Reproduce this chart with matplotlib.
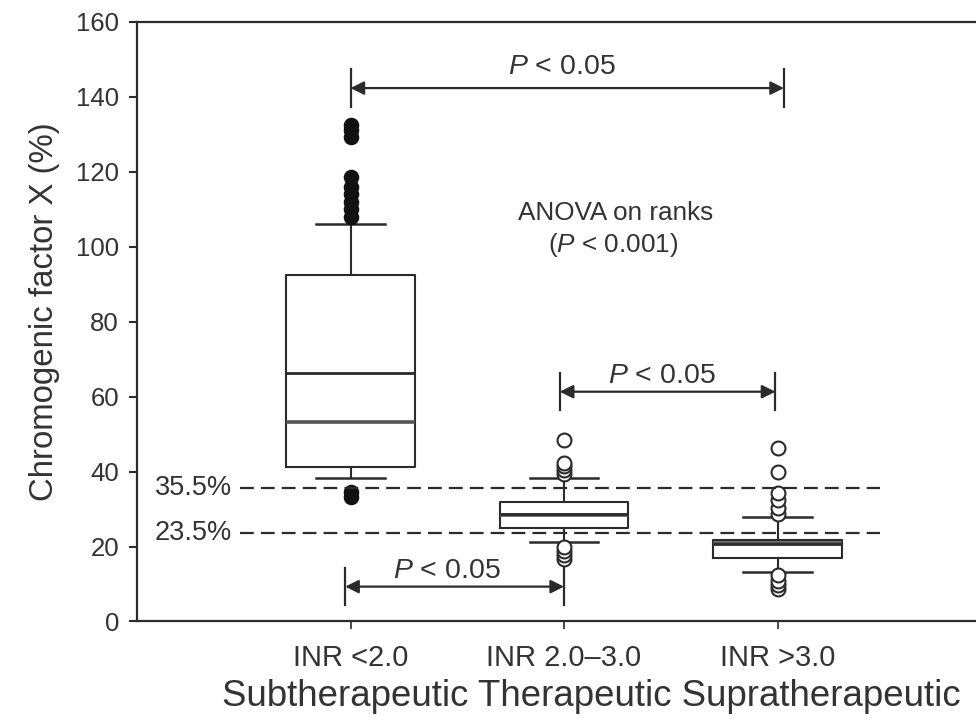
import matplotlib
matplotlib.use("Agg")
import matplotlib.pyplot as plt

plt.rcParams['font.family'] = ['Liberation Sans', 'DejaVu Sans']
plt.rcParams['mathtext.fontset'] = 'custom'
plt.rcParams['mathtext.it'] = 'Liberation Sans:italic'
plt.rcParams['mathtext.rm'] = 'Liberation Sans'

# ---------------- data ----------------
groups = ["INR <2.0", "INR 2.0\u20133.0", "INR >3.0"]
group_names = "Subtherapeutic Therapeutic Supratherapeutic"
q1 = [41.2, 24.9, 16.9]
q3 = [92.4, 32.0, 21.8]
medians = [53.2, 28.3, 21.0]
means = [66.3, 28.7, 20.6]
whisker_low = [38.2, 21.3, 13.3]
whisker_high = [106.0, 38.3, 27.9]
fliers_1 = [33.2, 34.5, 108.0, 110.0, 112.0, 114.0, 116.0, 118.5, 129.3, 131.0, 132.5]
fliers_2 = [16.6, 17.7, 18.8, 19.9, 39.3, 40.4, 41.4, 42.4, 48.3]
fliers_3 = [8.6, 9.7, 10.9, 12.3, 28.6, 30.2, 32.4, 34.4, 39.8, 46.2]
fliers = [fliers_1, fliers_2, fliers_3]
thresholds = [35.5, 23.5]
threshold_labels = ["35.5%", "23.5%"]
yticks = [0, 20, 40, 60, 80, 100, 120, 140, 160]

ink = '#2b2b2b'
txt = '#333333'

fig = plt.figure(figsize=(9.76, 7.22), dpi=100)
ax = fig.add_axes([0.1404, 0.1392, 0.875, 0.8307])

positions = [1, 2, 3]
stats = []
for i in range(3):
    stats.append(dict(med=medians[i], q1=q1[i], q3=q3[i], whislo=whisker_low[i],
                      whishi=whisker_high[i], mean=means[i], fliers=[]))

ax.bxp(stats, positions=positions, widths=0.6, capwidths=0.32,
       showmeans=True, meanline=True, showfliers=False,
       boxprops=dict(color=ink, lw=1.5),
       whiskerprops=dict(color=ink, lw=1.5),
       capprops=dict(color=ink, lw=1.8),
       medianprops=dict(color='#555555', lw=2.6),
       meanprops=dict(color=ink, lw=2.0, linestyle='-'))

# outliers
ax.plot([positions[0]] * len(fliers_1), fliers_1, 'o', ms=10, mfc='#111111',
        mec='#111111', mew=1.2, zorder=3)
for i in (1, 2):
    ax.plot([positions[i]] * len(fliers[i]), fliers[i], 'o', ms=10, mfc='white',
            mec=ink, mew=1.5, zorder=3)

# threshold lines
for t, lab in zip(thresholds, threshold_labels):
    ax.plot([0.482, 3.48], [t, t], color=ink, lw=1.6, dashes=(6.2, 3.2), zorder=4)
    ax.text(0.445, t, lab, ha='right', va='center', fontsize=19.5, color=txt)

# comparison brackets
def bracket(x0, x1, y, half, tx, ty):
    ax.annotate('', xy=(x0, y), xytext=(x1, y),
                arrowprops=dict(arrowstyle='<|-|>', color=ink, lw=1.6,
                                mutation_scale=20, shrinkA=0, shrinkB=0))
    for x in (x0, x1):
        ax.plot([x, x], [y - half, y + half], color=ink, lw=1.6)
    ax.text(tx, ty, '$P$ < 0.05', ha='center', va='center', fontsize=20.5, color=txt)

bracket(1.0, 3.03, 142.3, 5.0, 1.99, 147.8)
bracket(1.98, 2.99, 61.3, 5.0, 2.46, 65.4)
bracket(0.975, 2.0, 9.3, 5.0, 1.45, 13.4)

ax.text(2.24, 109.0, 'ANOVA on ranks', ha='center', va='center', fontsize=18.8, color=txt)
ax.text(2.23, 100.4, '($P$ < 0.001)', ha='center', va='center', fontsize=18.8, color=txt)

# axes styling
ax.set_xlim(0, 4)
ax.set_ylim(0, 160)
ax.set_yticks(yticks)
ax.set_xticks(positions)
ax.set_xticklabels(groups)
for s in ('left', 'bottom', 'top', 'right'):
    ax.spines[s].set_color(ink)
    ax.spines[s].set_linewidth(1.6)
ax.tick_params(axis='y', direction='out', length=6, width=1.5, pad=7,
               labelsize=18.5, colors=ink, labelcolor=txt)
ax.tick_params(axis='x', direction='out', length=6, width=1.2, pad=10,
               labelsize=21, colors=ink, labelcolor=txt)

fig.text(45 / 976, 1 - 312 / 722, 'Chromogenic factor X (%)', rotation=90,
         ha='center', va='center', fontsize=23.8, color=txt)
fig.text(591 / 976, 1 - 697 / 722, group_names, ha='center', va='center',
         fontsize=26.4, color=txt)

fig.savefig('out.png', dpi=100)
